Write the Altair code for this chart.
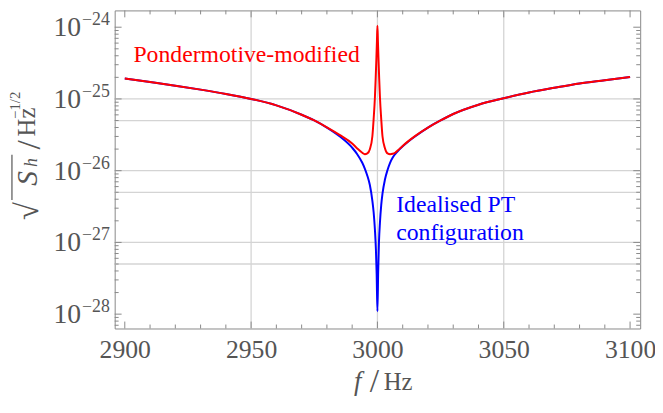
import altair as alt
import pandas as pd

# ---------------- data ----------------
# idealised PT configuration (blue): frequency [Hz], log10 amplitude
blue_f = [2900, 2910, 2920, 2930, 2940, 2950, 2960, 2970, 2975, 2980, 2985, 2990,
          2992, 2994, 2995, 2996, 2997, 2998, 2998.5, 2999, 2999.4, 2999.7, 3000,
          3000.3, 3000.6, 3001, 3001.5, 3002, 3003, 3004, 3005, 3006, 3008, 3010,
          3012, 3015, 3020, 3025, 3030, 3040, 3050, 3060, 3070, 3080, 3090, 3100]
blue_e = [-24.716, -24.765, -24.815, -24.87, -24.93, -25.00, -25.09, -25.22, -25.30, -25.40, -25.52, -25.68,
          -25.77, -25.89, -25.97, -26.07, -26.20, -26.42, -26.58, -26.82, -27.10, -27.45, -27.96,
          -27.40, -27.00, -26.72, -26.48, -26.32, -26.12, -25.99, -25.89, -25.82, -25.73, -25.66,
          -25.60, -25.52, -25.40, -25.30, -25.21, -25.08, -24.99, -24.91, -24.845, -24.785, -24.74, -24.695]

# pondermotive-modified (red)
red_f = [2900, 2910, 2920, 2930, 2940, 2950, 2960, 2970, 2975, 2980, 2985, 2990,
         2992, 2994, 2995, 2996, 2997, 2998, 2998.5, 2999, 2999.3, 2999.6, 2999.8, 3000,
         3000.2, 3000.4, 3000.7, 3001, 3001.5, 3002, 3003, 3004, 3005, 3006, 3007, 3008, 3010,
         3012, 3015, 3020, 3025, 3030, 3040, 3050, 3060, 3070, 3080, 3090, 3100]
red_e = [-24.716, -24.765, -24.815, -24.87, -24.93, -25.00, -25.09, -25.22, -25.30, -25.395, -25.50, -25.62,
         -25.69, -25.75, -25.77, -25.76, -25.70, -25.52, -25.28, -24.98, -24.72, -24.42, -24.20, -23.98,
         -24.20, -24.42, -24.72, -24.98, -25.28, -25.52, -25.69, -25.76, -25.77, -25.765, -25.75, -25.72, -25.655,
         -25.595, -25.515, -25.40, -25.30, -25.21, -25.08, -24.99, -24.91, -24.845, -24.785, -24.74, -24.695]

x_tick_labels = [2900, 2950, 3000, 3050, 3100]
x_grid = [2950, 3000, 3050]
y_grid_e = [-25, -25 - 0.30103, -26, -26 - 0.30103, -27, -27 - 0.30103]
y_label_e = [-24, -25, -26, -27, -28]

# ---------------- layout ----------------
W, H = 532, 322
FONT = "Liberation Serif, Times New Roman, Times, DejaVu Serif, serif"
GREY = "#555555"
TICK = "#888888"

xs = alt.Scale(domain=[2896, 3104], nice=False, zero=False)
ys = alt.Scale(type="log", domain=[10 ** -28.2, 10 ** -23.766], nice=False)

blue = pd.DataFrame({"f": blue_f, "v": [10 ** e for e in blue_e]})
red = pd.DataFrame({"f": red_f, "v": [10 ** e for e in red_e]})

ygrid = pd.DataFrame({"v": [10 ** e for e in y_grid_e]})
xgrid = pd.DataFrame({"f": x_grid})

y_major = [10.0 ** e for e in range(-28, -23)]
y_minor = [k * 10.0 ** e for e in range(-29, -23) for k in range(2, 10)
           if 10 ** -28.2 <= k * 10.0 ** e <= 10 ** -23.766]
x_major = list(range(2900, 3101, 50))
x_minor = [f for f in range(2900, 3101, 10) if f % 50 != 0]

xaxis = alt.Axis(values=x_tick_labels, labelFont=FONT, labelFontSize=26, labelColor=GREY,
                 ticks=False, domain=False, grid=False, title=None, labelPadding=8, format="d")

gridcol = "#d4d4d4"
g_x = alt.Chart(xgrid).mark_rule(color=gridcol, strokeWidth=1.3).encode(
    x=alt.X("f:Q", scale=xs, axis=xaxis))
g_y = alt.Chart(ygrid).mark_rule(color=gridcol, strokeWidth=1.3).encode(
    y=alt.Y("v:Q", scale=ys, axis=None))

line_b = alt.Chart(blue).mark_line(color="#0000ff", strokeWidth=2, interpolate="monotone").encode(
    x=alt.X("f:Q", scale=xs, axis=xaxis),
    y=alt.Y("v:Q", scale=ys, axis=None))
line_r = alt.Chart(red).mark_line(color="#ff0000", strokeWidth=2, interpolate="monotone").encode(
    x=alt.X("f:Q", scale=xs, axis=xaxis), y=alt.Y("v:Q", scale=ys, axis=None))


def yticks(vals, length):
    d = pd.DataFrame({"v": vals})
    left = alt.Chart(d).mark_rule(color=TICK, strokeWidth=1).encode(
        y=alt.Y("v:Q", scale=ys), x=alt.value(0), x2=alt.value(length))
    right = alt.Chart(d).mark_rule(color=TICK, strokeWidth=1).encode(
        y=alt.Y("v:Q", scale=ys), x=alt.value(W), x2=alt.value(W - length))
    return [left, right]


def xticks(vals, length):
    d = pd.DataFrame({"f": vals})
    top = alt.Chart(d).mark_rule(color=TICK, strokeWidth=1).encode(
        x=alt.X("f:Q", scale=xs), y=alt.value(0), y2=alt.value(length))
    bot = alt.Chart(d).mark_rule(color=TICK, strokeWidth=1).encode(
        x=alt.X("f:Q", scale=xs), y=alt.value(H), y2=alt.value(H - length))
    return [top, bot]


ticks = yticks(y_major, 7) + yticks(y_minor, 4) + xticks(x_major, 7) + xticks(x_minor, 4)

ylab = pd.DataFrame({"v": [10.0 ** e for e in y_label_e],
                     "base": ["10"] * len(y_label_e),
                     "sup": ["\u2212" + str(-e) for e in y_label_e]})
lab_base = alt.Chart(ylab).mark_text(font=FONT, fontSize=28, color=GREY, align="right",
                                     baseline="middle", dy=1).encode(
    y=alt.Y("v:Q", scale=ys), x=alt.value(-34), text="base:N")
lab_sup = alt.Chart(ylab).mark_text(font=FONT, fontSize=18, color=GREY, align="left",
                                    baseline="middle", dy=-7).encode(
    y=alt.Y("v:Q", scale=ys), x=alt.value(-33), text="sup:N")


def txt(s, x, y, size, color=GREY, style="normal", angle=0, align="center", baseline="middle"):
    return alt.Chart(pd.DataFrame({"t": [s]})).mark_text(
        font=FONT, fontSize=size, color=color, fontStyle=style, angle=angle,
        align=align, baseline=baseline).encode(x=alt.value(x), y=alt.value(y), text="t:N")


annots = [
    txt("Pondermotive-modified", 19, 45, 24, color="#ff0000", align="left"),
    txt("Idealised PT", 285, 204, 24, color="#0000ff", align="left", baseline="alphabetic"),
    txt("configuration", 285, 232, 24, color="#0000ff", align="left", baseline="alphabetic"),
    # x title
    txt("f", 246, 376, 27, style="italic"),
    txt("/", 263, 376, 34),
    txt("Hz", 287, 376, 25),
    # y title (rotated)
    txt("\u221a", -88, 203, 33, angle=270),
    txt("S", -88, 170, 30, style="italic", angle=270),
    txt("h", -84, 154, 18, style="italic", angle=270),
    txt("/", -86, 136, 34, angle=270),
    txt("Hz", -89, 113, 25, angle=270),
    txt("\u22121/2", -101, 96, 15, angle=270),
]
overline = alt.Chart(pd.DataFrame({"a": [0]})).mark_rule(color=GREY, strokeWidth=1.2).encode(
    x=alt.value(-104), y=alt.value(146), y2=alt.value(192))

chart = alt.layer(g_y, g_x, line_b, line_r, *ticks, lab_base, lab_sup, *annots, overline).properties(
    width=W, height=H,
    autosize=alt.AutoSizeParams(type="none"),
    padding={"left": 108, "top": 0, "right": 15, "bottom": 75},
).configure_view(stroke="#888888", strokeWidth=1)

chart.save("out.html", embed_options={"renderer": "svg", "actions": False})
